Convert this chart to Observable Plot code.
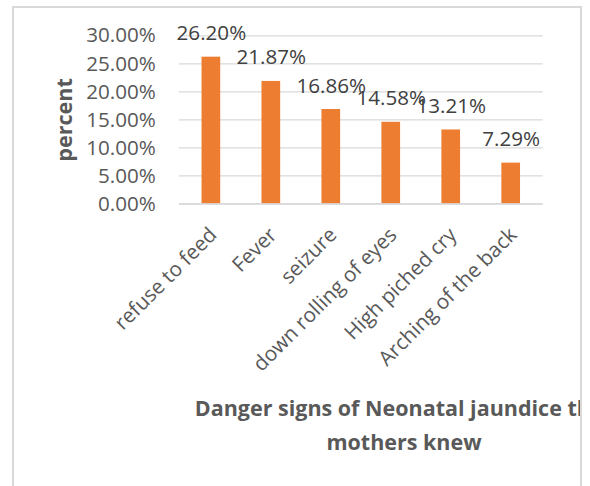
<!DOCTYPE html>
<html>
<head>
<meta charset="utf-8">
<script src="https://cdn.jsdelivr.net/npm/d3@7"></script>
<script src="https://cdn.jsdelivr.net/npm/@observablehq/plot@0.6"></script>
<style>
  html, body { margin: 0; padding: 0; background: #fff; overflow: hidden; }
  #frame { position: absolute; left: 12px; top: 6px; width: 566px; height: 500px;
           border: 2px solid #d9d9d9; overflow: hidden; background: #fff; }
  #chart { position: absolute; left: -14px; top: -8px; }
  #xtitle { position: absolute; left: 90px; top: 383px; width: 600px; text-align: center;
            font-family: "Open Sans", sans-serif; font-weight: bold; font-size: 21.5px;
            line-height: 34px; color: #595959; white-space: nowrap; }
</style>
</head>
<body>
<div id="frame">
  <div id="chart"></div>
  <div id="xtitle">Danger signs of Neonatal jaundice that<br>mothers knew</div>
</div>
<script>
const categories = ["refuse to feed", "Fever", "seizure", "down rolling of eyes", "High piched cry", "Arching of the back"];
const values = [26.20, 21.87, 16.86, 14.58, 13.21, 7.29];
const yTicks = [0, 5, 10, 15, 20, 25, 30];

const data = categories.map((c, i) => ({category: c, value: values[i]}));
const fmt = d => d.toFixed(2) + "%";

const chart = Plot.plot({
  width: 590,
  height: 392,
  marginLeft: 182,
  marginRight: 38,
  marginTop: 36,
  marginBottom: 185,
  style: {fontFamily: "Open Sans, sans-serif", background: "transparent", color: "#595959"},
  x: {domain: categories, paddingInner: 0.69, paddingOuter: 0.345, label: null},
  y: {domain: [0, 30], label: null},
  marks: [
    Plot.gridY(yTicks, {stroke: "#d9d9d9", strokeOpacity: 1, strokeWidth: 1.3}),
    Plot.barY(data, {x: "category", y: "value", fill: "#ED7D31"}),
    Plot.ruleY([0], {stroke: "#d9d9d9", strokeWidth: 1.5}),
    Plot.axisY(yTicks, {tickFormat: fmt, tickSize: 0, tickPadding: 24, fontSize: 21, fill: "#595959", label: null}),
    Plot.axisX({tickRotate: -45, tickSize: 0, tickPadding: 28, dx: 2, fontSize: 21, fill: "#595959", label: null}),
    Plot.text(data, {x: "category", y: "value", text: d => fmt(d.value), dy: -24, lineAnchor: "middle", fontSize: 21, fill: "#404040"}),
    Plot.text(["percent"], {frameAnchor: "left", textAnchor: "middle", dx: -116, rotate: -90, fontSize: 22, fontWeight: "bold", fill: "#595959"})
  ]
});
document.getElementById("chart").appendChild(chart);
</script>
</body>
</html>
